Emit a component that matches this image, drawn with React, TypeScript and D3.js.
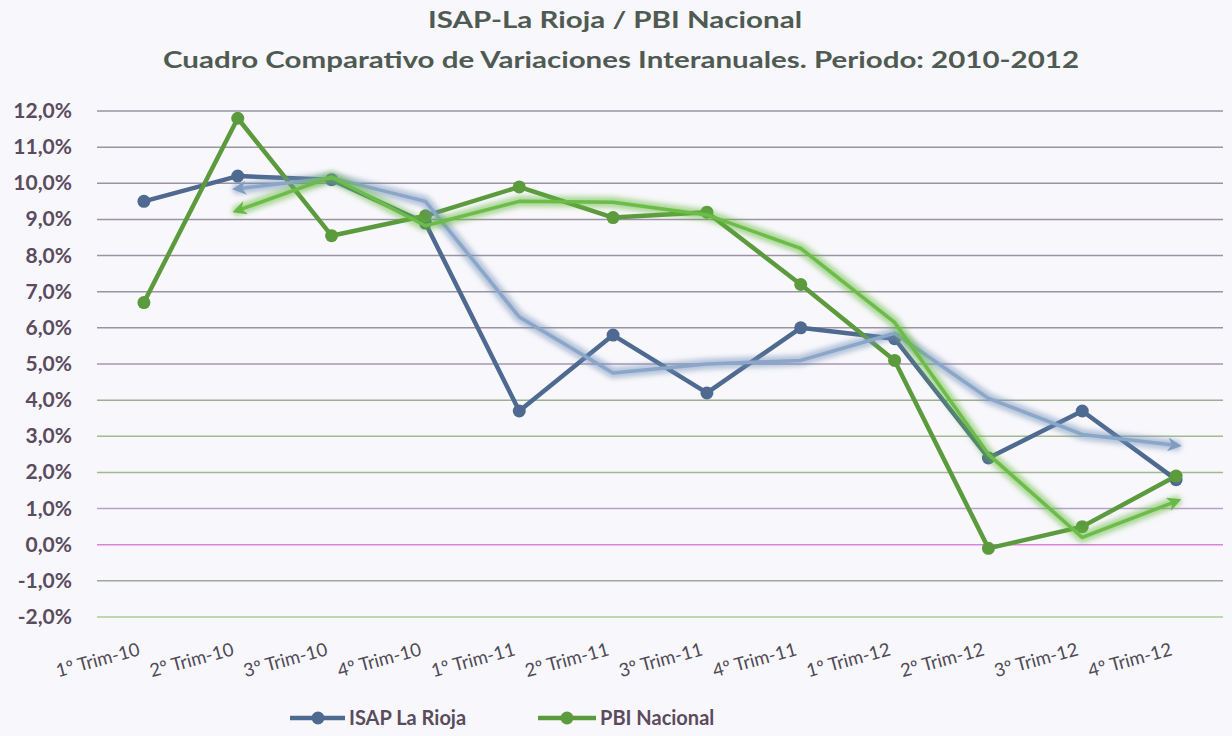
import React from "react";
import * as d3 from "d3";

const categories = [
  "1º Trim-10", "2º Trim-10", "3º Trim-10", "4º Trim-10",
  "1º Trim-11", "2º Trim-11", "3º Trim-11", "4º Trim-11",
  "1º Trim-12", "2º Trim-12", "3º Trim-12", "4º Trim-12",
];
const isapValues = [9.5, 10.2, 10.1, 8.9, 3.7, 5.8, 4.2, 6.0, 5.7, 2.4, 3.7, 1.8];
const pbiValues = [6.7, 11.8, 8.55, 9.1, 9.9, 9.05, 9.2, 7.2, 5.1, -0.1, 0.5, 1.9];
const yTicks = [12, 11, 10, 9, 8, 7, 6, 5, 4, 3, 2, 1, 0, -1, -2];
const gridColors: Record<number, string> = {
  12: "#9a94a2", 11: "#9a94a2", 10: "#9a94a2", 9: "#9a94a2", 8: "#9a94a2",
  7: "#9a94a2", 6: "#9a94a2", 5: "#a896b4", 4: "#9cae92", 3: "#a2bc92",
  2: "#a2b890", 1: "#b89ed0", 0: "#d884dc", "-1": "#a0a8a0", "-2": "#accc94",
};

const W = 1232, H = 736;
const left = 97, right = 1223, top = 111, bottom = 617;

function movingAvg(v: number[]) {
  return v.map((d, i) => (i === 0 ? null : (v[i - 1] + d) / 2));
}

export default function App() {
  const x = d3.scaleBand<string>().domain(categories).range([left, right]);
  const cx = (c: string) => (x(c) as number) + x.bandwidth() / 2;
  const y = d3.scaleLinear().domain([-2, 12]).range([bottom, top]);
  const line = d3.line<number>().x((_, i) => cx(categories[i])).y((d) => y(d));
  const trendLine = d3
    .line<number | null>()
    .defined((d) => d !== null)
    .x((_, i) => cx(categories[i]))
    .y((d) => y(d as number));

  const isapTrend = movingAvg(isapValues);
  const pbiTrend = movingAvg(pbiValues);

  const blue = "#4e6a90";
  const green = "#5c9a3e";
  const font = "Lato, 'Open Sans', sans-serif";

  const trend = (vals: (number | null)[], glow: string, core: string, id: string) => (
    <g>
      <path d={trendLine(vals) || ""} fill="none" stroke={glow} strokeWidth={11}
        strokeOpacity={0.5} filter="url(#blur)" strokeLinejoin="round" strokeLinecap="round" />
      <path d={trendLine(vals) || ""} fill="none" stroke={core} strokeWidth={3.5}
        strokeLinejoin="round" markerStart={`url(#${id}s)`} markerEnd={`url(#${id}e)`} />
    </g>
  );

  return (
    <svg width={W} height={H} style={{ position: "fixed", left: 0, top: 0, background: "#f8f7fb" }}>
      <defs>
        <filter id="blur" x="-10%" y="-10%" width="120%" height="120%">
          <feGaussianBlur stdDeviation="2.5" />
        </filter>
        {[["bt", "#7f9cc0"], ["gt", "#68b845"]].map(([id, c]) => (
          <React.Fragment key={id}>
            <marker id={`${id}e`} viewBox="0 0 10 10" refX="6" refY="5" markerWidth="4" markerHeight="4" orient="auto">
              <path d="M0,0 L10,5 L0,10 L3,5 Z" fill={c} />
            </marker>
            <marker id={`${id}s`} viewBox="0 0 10 10" refX="4" refY="5" markerWidth="4" markerHeight="4" orient="auto">
              <path d="M10,0 L0,5 L10,10 L7,5 Z" fill={c} />
            </marker>
          </React.Fragment>
        ))}
      </defs>
      <rect width={W} height={H} fill="#f8f7fb" />
      <text x={615} y={28} textAnchor="middle" fontFamily={font} fontWeight={700} fontSize={22}
        fill="#4f5a52" textLength={374} lengthAdjust="spacingAndGlyphs">ISAP-La Rioja / PBI Nacional</text>
      <text x={621} y={68} textAnchor="middle" fontFamily={font} fontWeight={700} fontSize={22}
        fill="#4f5a52" textLength={916} lengthAdjust="spacingAndGlyphs">
        Cuadro Comparativo de Variaciones Interanuales. Periodo: 2010-2012
      </text>

      {yTicks.map((t) => (
        <g key={t}>
          <line x1={left} x2={right} y1={y(t)} y2={y(t)} stroke={gridColors[t]} strokeWidth={1.5} />
          <text x={72} y={y(t) + 7} textAnchor="end" fontFamily={font} fontWeight={700} fontSize={21}
            fill="#5a4c5e">{`${t.toFixed(1).replace(".", ",")}%`}</text>
        </g>
      ))}

      {categories.map((c) => (
        <text key={c} transform={`translate(${cx(c) - 3},${655}) rotate(-15)`} textAnchor="end"
          fontFamily={font} fontSize={18.5} fill="#4f4a56">{c}</text>
      ))}

      <path d={line(isapValues) || ""} fill="none" stroke={blue} strokeWidth={4.5} strokeLinejoin="round" />
      {isapValues.map((v, i) => (
        <circle key={i} cx={cx(categories[i])} cy={y(v)} r={6.5} fill={blue} />
      ))}
      <path d={line(pbiValues) || ""} fill="none" stroke={green} strokeWidth={4.5} strokeLinejoin="round" />
      {pbiValues.map((v, i) => (
        <circle key={i} cx={cx(categories[i])} cy={y(v)} r={6.5} fill={green} />
      ))}

      {trend(isapTrend, "#6f90b8", "#8aa6c8", "bt")}
      {trend(pbiTrend, "#5fb83a", "#6cbc48", "gt")}

      <g>
        <line x1={290} x2={345} y1={718} y2={718} stroke={blue} strokeWidth={4.5} />
        <circle cx={318} cy={718} r={6.5} fill={blue} />
        <text x={349} y={725} fontFamily={font} fontWeight={700} fontSize={20} fill="#5a4c5e">ISAP La Rioja</text>
        <line x1={538} x2={596} y1={718} y2={718} stroke={green} strokeWidth={4.5} />
        <circle cx={567} cy={718} r={6.5} fill={green} />
        <text x={600} y={725} fontFamily={font} fontWeight={700} fontSize={20} fill="#5a4c5e">PBI Nacional</text>
      </g>
    </svg>
  );
}
